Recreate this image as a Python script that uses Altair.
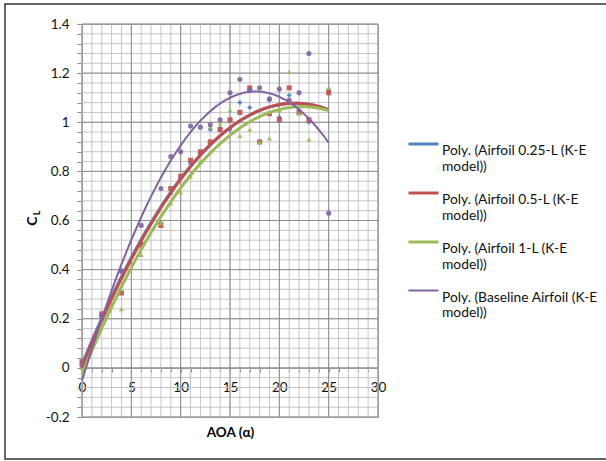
import altair as alt
import pandas as pd

# ---- data ----
aoa = [0, 2, 4, 6, 8, 9, 10, 11, 12, 13, 14, 15, 16, 17, 18, 19, 20, 21, 22, 23, 25]
cl_025 = [0.01, 0.21, 0.39, 0.51, 0.59, 0.71, 0.77, 0.83, 0.87, 0.97, 0.975, 0.97, 1.08, 1.06, 0.92, 1.09, 1.02, 1.11, 1.05, 1.00, 1.13]
cl_05 = [0.025, 0.22, 0.305, 0.50, 0.58, 0.73, 0.78, 0.845, 0.88, 0.92, 0.97, 1.01, 1.04, 1.14, 0.92, 1.035, 1.01, 1.14, 1.04, 1.01, 1.12]
cl_1 = [0.0, 0.20, 0.24, 0.46, 0.59, 0.67, 0.715, 0.78, 0.84, 0.98, 0.995, 1.05, 0.945, 0.97, 0.92, 0.935, 1.05, 1.205, 1.035, 0.93, 1.14]
cl_base = [0.01, 0.21, 0.395, 0.58, 0.73, 0.86, 0.88, 0.985, 0.98, 0.99, 1.01, 1.12, 1.175, 1.13, 1.14, 1.095, 1.135, 1.09, 1.12, 1.28, 0.63]

series = [
    "Poly. (Airfoil 0.25-L (K-E model))",
    "Poly. (Airfoil 0.5-L (K-E model))",
    "Poly. (Airfoil 1-L (K-E model))",
    "Poly. (Baseline Airfoil (K-E model))",
]
values = [cl_025, cl_05, cl_1, cl_base]
colors = ["#4F81BD", "#C0504D", "#9BBB59", "#8064A2"]
shapes = ["diamond", "square", "triangle-up", "circle"]
widths = [3, 3, 3, 2]

x_minor = list(range(0, 31))
x_major = list(range(0, 31, 5))
y_minor = [round(-0.2 + 0.04 * i, 2) for i in range(41)]
y_major = [round(-0.2 + 0.2 * i, 1) for i in range(9)]

FONT = "Lato"
W, H = 296, 393

rows = []
for name, vals in zip(series, values):
    for a, c in zip(aoa, vals):
        rows.append({"aoa": a, "cl": c, "series": name})
df = pd.DataFrame(rows)

xs = alt.Scale(domain=[0, 30], nice=False, zero=False)
ys = alt.Scale(domain=[-0.2, 1.4], nice=False, zero=False)

x_axis = alt.Axis(
    values=x_minor,
    labelExpr="datum.value % 5 == 0 ? datum.label : ''",
    offset=-49,
    title="AOA (α)",
    titleY=64,
    titleBaseline="middle",
    titleFont=FONT, titleFontSize=13.5, titleFontWeight="bold", titleColor="#000",
    labelFont=FONT, labelFontSize=13.5, labelColor="#111",
    tickSize=4, tickColor="#8c8c8c", labelPadding=8,
    domainColor="#8c8c8c", grid=False, labelFlush=False, labelOverlap=False,
)
y_axis = alt.Axis(
    values=y_minor,
    labelExpr="abs(datum.value*5 - round(datum.value*5)) < 0.001 ? (datum.value < 0 ? '-' + format(-datum.value, '~g') : format(datum.value, '~g')) : ''",
    title="",
    labelFont=FONT, labelFontSize=13.5, labelColor="#111",
    tickSize=5, tickColor="#8c8c8c", labelPadding=8,
    domainColor="#8c8c8c", grid=False, labelFlush=False, labelOverlap=False,
)

grid_minor_x = alt.Chart(pd.DataFrame({"aoa": x_minor})).mark_rule(color="#c4c4c4", strokeWidth=1).encode(
    x=alt.X("aoa:Q", scale=xs, axis=x_axis))
grid_minor_y = alt.Chart(pd.DataFrame({"cl": y_minor})).mark_rule(color="#c4c4c4", strokeWidth=1).encode(
    y=alt.Y("cl:Q", scale=ys, axis=y_axis))
grid_major_x = alt.Chart(pd.DataFrame({"aoa": x_major})).mark_rule(color="#8c8c8c", strokeWidth=1).encode(
    x=alt.X("aoa:Q", scale=xs, axis=x_axis))
grid_major_y = alt.Chart(pd.DataFrame({"cl": y_major})).mark_rule(color="#8c8c8c", strokeWidth=1).encode(
    y=alt.Y("cl:Q", scale=ys, axis=y_axis))

point_layers = []
for name, col, shp in zip(series, colors, shapes):
    point_layers.append(
        alt.Chart(df[df["series"] == name]).mark_point(
            shape=shp, filled=True, color=col, size=26, opacity=0.9
        ).encode(
            x=alt.X("aoa:Q", scale=xs, axis=x_axis),
            y=alt.Y("cl:Q", scale=ys, axis=y_axis),
        )
    )

leg = alt.Legend(
    title=None,
    orient="none", legendX=325, legendY=103.5,
    symbolType="stroke", symbolSize=900, symbolStrokeWidth=3,
    labelFont=FONT, labelFontSize=13.8, labelColor="#111", labelLimit=300,
    labelExpr="[replace(datum.label, ' model))', ''), 'model))']",
    labelBaseline="top", labelOffset=2, rowPadding=2,
)

trend = alt.Chart(df).transform_regression(
    "aoa", "cl", method="poly", order=2, groupby=["series"]
).mark_line().encode(
    x=alt.X("aoa:Q", scale=xs, axis=x_axis),
    y=alt.Y("cl:Q", scale=ys, axis=y_axis),
    color=alt.Color("series:N", scale=alt.Scale(domain=series, range=colors), legend=leg),
    strokeWidth=alt.StrokeWidth("series:N", scale=alt.Scale(type="ordinal", domain=series, range=widths), legend=leg),
)

one = pd.DataFrame({"k": [0]})
ytitle_c = alt.Chart(one).mark_text(text="C", font=FONT, fontSize=14, fontWeight="bold", angle=270, color="#000").encode(
    x=alt.value(-49), y=alt.value(197))
ytitle_l = alt.Chart(one).mark_text(text="L", font=FONT, fontSize=9, fontWeight="bold", angle=270, color="#000").encode(
    x=alt.value(-45), y=alt.value(189))
frame = alt.Chart(one).mark_rect(fillOpacity=0, stroke="#333333", strokeWidth=1.5).encode(
    x=alt.value(-77), x2=alt.value(540), y=alt.value(-20), y2=alt.value(435))

chart = alt.layer(
    grid_minor_x, grid_minor_y, grid_major_x, grid_major_y,
    *point_layers, trend, ytitle_c, ytitle_l, frame
).properties(
    width=W, height=H,
    autosize=alt.AutoSizeParams(type="none"),
    padding={"left": 82, "top": 24, "right": 228, "bottom": 44},
    background="white",
).configure_view(stroke="#8c8c8c", strokeWidth=1)

chart.save("out.html", embed_options={"renderer": "svg", "actions": False})
